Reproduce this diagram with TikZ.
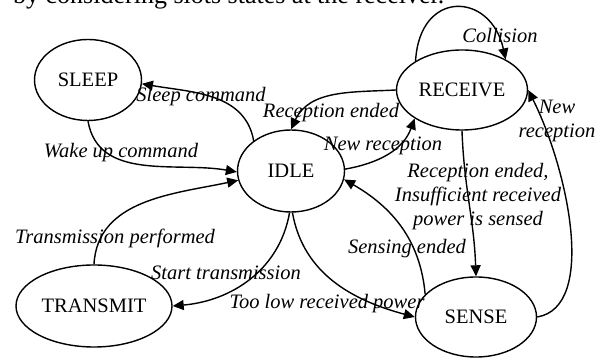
\documentclass[tikz,border=0pt]{standalone}
\usepackage{fontspec}
\setmainfont{Liberation Serif}
\usetikzlibrary{shapes.geometric,arrows.meta}

\begin{document}
\begin{tikzpicture}[x=1pt,y=1pt,
		fsm/.style={ellipse,draw,line width=1.4pt,inner sep=0pt,font=\fontsize{20.5}{24}\selectfont},
		lab/.style={inner sep=0pt,align=center,font=\fontsize{20.5}{24}\selectfont\itshape},
		trans/.style={line width=1.4pt,-{Triangle[length=11pt,width=10pt]}}]
		\useasboundingbox (0,0) rectangle (610,358);
		\node[anchor=base west,inner sep=0pt,font=\fontsize{26}{30}\selectfont] (cap) at (13,354) {by considering slots states at the receiver.};
		\node[fsm,minimum width=107,minimum height=81] (sleep) at (88,278) {SLEEP};
		\node[fsm,minimum width=107,minimum height=82] (idle) at (291,187) {IDLE};
		\node[fsm,minimum width=131,minimum height=80] (receive) at (462,268) {RECEIVE};
		\node[fsm,minimum width=156,minimum height=82] (transmit) at (94,52) {TRANSMIT};
		\node[fsm,minimum width=121,minimum height=80] (sense) at (476,41) {SENSE};
		\draw[trans] (idle.141) to[out=100,in=-10] (sleep.-4);
		\draw[trans] (sleep.-90) to[out=-80,in=170] (idle.181);
		\draw[trans] (transmit.90) to[out=87,in=192] (idle.190);
		\draw[trans] (idle.-92) to[out=-100,in=5] (transmit.0);
		\draw[trans] (idle.-88) to[out=-80,in=165] (sense.180);
		\draw[trans] (sense.156) to[out=95,in=-30] (idle.-9);
		\draw[trans] (receive.180) to[out=183,in=65] (idle.90);
		\draw[trans] (idle.2) to[out=10,in=-110] (receive.211);
		\draw[trans] (receive.-90) to[out=-88,in=92] (sense.90);
		\draw[trans] (sense.0) .. controls +(60,10) and +(40,-80) .. (receive.0);
		\draw[trans] (receive.148) .. controls +(4,72) and +(-15,68) .. (receive.35);
		\node[lab] (l1) at (201,261) {Sleep command};
		\node[lab] (l2) at (121,205) {Wake up command};
		\node[lab] (l3) at (115,120) {Transmission performed};
		\node[lab] (l4) at (226,85) {Start transmission};
		\node[lab] (l5) at (327,54) {Too low received power};
		\node[lab] (l6) at (407,109) {Sensing ended};
		\node[lab] (l7) at (331,245) {Reception ended};
		\node[lab] (l8) at (383,212) {New reception};
		\node[lab] (l9) at (478,161) {Reception ended,\\Insufficient received\\power is sensed};
		\node[lab] (l10) at (557,237) {New\\reception};
		\node[lab] (l11) at (500,323) {Collision};
	\end{tikzpicture}
\end{document}
